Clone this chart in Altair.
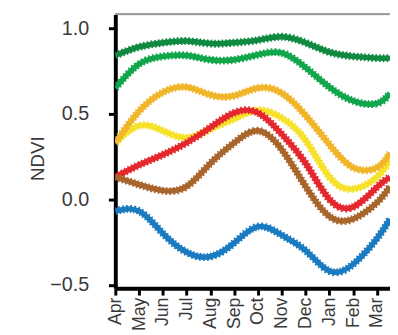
import altair as alt
import pandas as pd

# ---- data ----
months = ["Apr", "May", "Jun", "Jul", "Aug", "Sep", "Oct", "Nov", "Dec", "Jan", "Feb", "Mar"]
# positions (month index) at which values were read; the last one is the right edge of the plot
sample_at = [0, 1, 2, 3, 4, 5, 6, 7, 8, 9, 10, 11, 11.55]

series_names = ["dark green", "green", "orange", "yellow", "red", "brown", "blue"]
dark_green = [0.84, 0.89, 0.915, 0.925, 0.91, 0.915, 0.93, 0.95, 0.915, 0.86, 0.835, 0.825, 0.825]
green      = [0.65, 0.79, 0.835, 0.84, 0.815, 0.815, 0.845, 0.855, 0.77, 0.655, 0.575, 0.56, 0.62]
orange     = [0.33, 0.515, 0.625, 0.655, 0.61, 0.605, 0.65, 0.62, 0.49, 0.32, 0.185, 0.185, 0.27]
yellow     = [0.33, 0.43, 0.40, 0.36, 0.41, 0.47, 0.52, 0.475, 0.345, 0.13, 0.06, 0.13, 0.23]
red        = [0.13, 0.20, 0.26, 0.33, 0.42, 0.505, 0.505, 0.38, 0.21, 0.0, -0.045, 0.07, 0.13]
brown      = [0.13, 0.085, 0.05, 0.075, 0.21, 0.33, 0.40, 0.29, 0.075, -0.10, -0.115, -0.02, 0.075]
blue       = [-0.07, -0.07, -0.20, -0.31, -0.335, -0.255, -0.16, -0.21, -0.30, -0.42, -0.38, -0.23, -0.115]
colors = ["#0f8a40", "#12a64c", "#f0b52a", "#f6e22a", "#e4282e", "#a8652c", "#1a7bc0"]
# drawing order (first is drawn at the bottom)
draw_order = ["yellow", "red", "brown", "orange", "blue", "green", "dark green"]

y_ticks = [-0.5, 0.0, 0.5, 1.0]

rows = []
for name, vals in zip(series_names, [dark_green, green, orange, yellow, red, brown, blue]):
    for xpos, v in zip(sample_at, vals):
        rows.append({"series": name, "month": xpos, "ndvi": v})
df = pd.DataFrame(rows)

label_expr = "[" + ",".join("'%s'" % m for m in months) + "][datum.value]"

W, H = 279, 278
FONT = "Liberation Sans"

x_enc = alt.X(
    "month:Q",
    scale=alt.Scale(domain=[0, 11.55], nice=False, zero=False),
    axis=alt.Axis(
        values=list(range(len(months))), labelExpr=label_expr,
        labelAngle=270, labelAlign="right", labelBaseline="middle",
        labelFontSize=18, labelFont=FONT, labelColor="#3a3a3a", labelPadding=2,
        labelOverlap=False, labelFlush=False,
        tickSize=7, tickWidth=3, tickColor="black",
        domainColor="black", domainWidth=4, grid=False, title=None,
    ),
)
y_enc = alt.Y(
    "ndvi:Q",
    scale=alt.Scale(domain=[-0.52, 1.08], nice=False, zero=False),
    axis=alt.Axis(
        values=y_ticks, format=".1f",
        labelFontSize=20, labelFont=FONT, labelColor="#3a3a3a", labelPadding=20,
        tickSize=7, tickWidth=3, tickColor="black",
        domainColor="black", domainWidth=4, grid=False,
        title="NDVI", titleFont=FONT, titleFontSize=19, titleFontWeight="normal",
        titleColor="#3a3a3a", titleAngle=270, titleX=-73, titleY=146,
        titleAlign="center", titleBaseline="alphabetic",
    ),
)
color_enc = alt.Color("series:N", scale=alt.Scale(domain=series_names, range=colors), legend=None)

layers = [
    alt.Chart(df).mark_rule(color="#999", strokeWidth=1).encode(
        x=alt.value(0), x2=alt.value(W), y=alt.value(0)
    )
]
for name in draw_order:
    b = alt.Chart(df).transform_filter(alt.datum.series == name).encode(
        x=x_enc, y=y_enc, color=color_enc)
    layers.append(b.mark_line(interpolate="natural", strokeWidth=5.5, clip=True))
    layers.append(b.mark_line(interpolate="natural", strokeWidth=8, strokeDash=[1.6, 2.2], clip=True))

chart = (
    alt.layer(*layers)
    .properties(
        width=W, height=H,
        autosize=alt.AutoSizeParams(type="none"),
        padding={"left": 109, "top": 4, "right": 0, "bottom": 45},
    )
    .configure_view(stroke=None)
    .configure(background="white")
)

chart.save("out.html", embed_options={"renderer": "svg", "actions": False})
